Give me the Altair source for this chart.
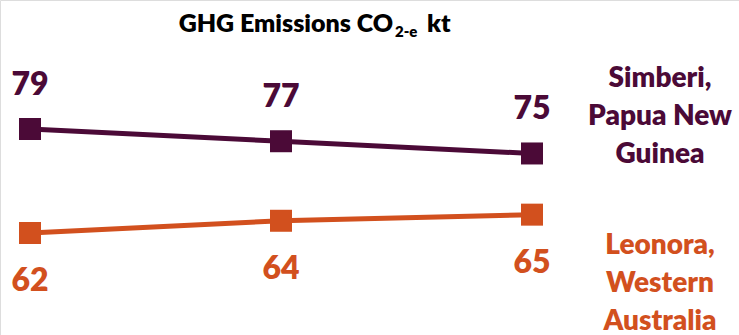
import altair as alt
import pandas as pd

# Emissions by site across three reporting periods (kt CO2-e)
periods = [0, 1, 2]
simberi = [79, 77, 75]
leonora = [62, 64, 65]

PURPLE = "#4B0A37"
ORANGE = "#D2501E"
FONT = "Lato"
HEAVY = 800

rows = []
for p, v in zip(periods, simberi):
    rows.append({"period": p, "value": v, "site": "Simberi"})
for p, v in zip(periods, leonora):
    rows.append({"period": p, "value": v, "site": "Leonora"})
df = pd.DataFrame(rows)

x = alt.X("period:Q", axis=None, scale=alt.Scale(domain=[0, 2], range=[30, 532]))
y = alt.Y("value:Q", axis=None, scale=alt.Scale(domain=[62, 79], range=[233, 129], zero=False))
color = alt.Color("site:N", legend=None,
                  scale=alt.Scale(domain=["Simberi", "Leonora"], range=[PURPLE, ORANGE]))

base = alt.Chart(df).encode(x=x, y=y, color=color)

lines = base.mark_line(strokeWidth=5)
points = base.mark_point(shape="square", filled=True, size=484, opacity=1)

labels_top = alt.Chart(df[df.site == "Simberi"]).mark_text(
    font=FONT, fontWeight=HEAVY, fontSize=32, dy=-34, baseline="alphabetic"
).encode(x=x, y=y, text="value:Q", color=color)
labels_bot = alt.Chart(df[df.site == "Leonora"]).mark_text(
    font=FONT, fontWeight=HEAVY, fontSize=32, dy=58, baseline="alphabetic"
).encode(x=x, y=y, text="value:Q", color=color)

def note(text, xpos, ypos, size, col, align="center"):
    return alt.Chart(pd.DataFrame({"t": [text]})).mark_text(
        font=FONT, fontWeight=HEAVY, fontSize=size, color=col,
        align=align, baseline="alphabetic", lineHeight=38
    ).encode(text="t:N", x=alt.value(xpos), y=alt.value(ypos))

site_simberi = note(["Simberi,", "Papua New", "Guinea"], 660, 87, 28, PURPLE)
site_leonora = note(["Leonora,", "Western", "Australia"], 660, 254, 28, ORANGE)

title_main = note("GHG Emissions CO", 393, 32, 25, "#000000", align="right")
title_sub = note("2-e", 395, 37, 15, "#000000", align="left")
title_unit = note("kt", 427, 32, 25, "#000000", align="left")

chart = alt.layer(
    lines, points, labels_top, labels_bot,
    site_simberi, site_leonora, title_main, title_sub, title_unit
).properties(
    width=739, height=335, padding=0, autosize=alt.AutoSizeParams(type="none")
).configure_view(stroke=None).configure(background="white")

chart.save("out.html", embed_options={"renderer": "svg", "actions": False})
